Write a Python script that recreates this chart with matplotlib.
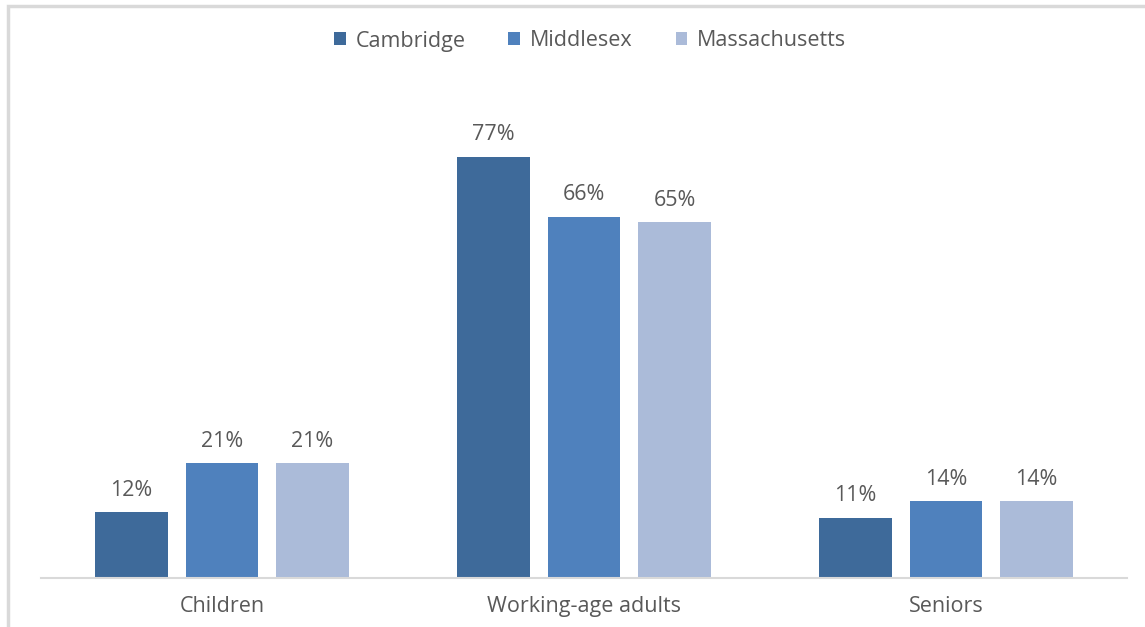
import numpy as np
import matplotlib.pyplot as plt
from matplotlib.patches import Rectangle

categories = ["Children", "Working-age adults", "Seniors"]
series_names = ["Cambridge", "Middlesex", "Massachusetts"]
cambridge = [12, 77, 11]
middlesex = [21, 66, 14]
massachusetts = [21, 65, 14]
colors = ["#3E6A9A", "#4F81BD", "#ABBBD9"]

plt.rcParams['font.family'] = ['Open Sans', 'DejaVu Sans']
fs = 15.5

fig = plt.figure(figsize=(11.45, 6.27), dpi=100)
# outer grey frame (image is cropped on the right and bottom)
fig.patches.append(Rectangle((8 / 1145, -0.1), 1.2, 1 - 6 / 627 + 0.1, transform=fig.transFigure,
                             fill=False, edgecolor="#D9D9D9", linewidth=2.5))

ax = fig.add_axes([41 / 1145, 1 - 578 / 627, (1127 - 41) / 1145, (578 - 80) / 627])
x = np.arange(len(categories))
width = 0.2
offsets = [-0.25, 0, 0.25]
for vals, name, col, off in zip([cambridge, middlesex, massachusetts], series_names, colors, offsets):
    bars = ax.bar(x + off, vals, width, color=col, label=name)
    for b, v in zip(bars, vals):
        ax.text(b.get_x() + b.get_width() / 2, v + 4.0, f"{v}%", ha="center", va="center",
                fontsize=fs, color="#595959")

ax.set_xlim(-0.5, 2.5)
ax.set_ylim(0, 91)
ax.set_xticks(x)
ax.set_xticklabels(categories, fontsize=fs, color="#595959")
ax.tick_params(axis="x", length=0, pad=13)
ax.set_yticks([])
for s in ["top", "right", "left"]:
    ax.spines[s].set_visible(False)
ax.spines["bottom"].set_color("#D9D9D9")
ax.spines["bottom"].set_linewidth(1.5)

leg = fig.legend(loc="center", bbox_to_anchor=(590 / 1145, 1 - 41 / 627), ncol=3, frameon=False,
                 fontsize=fs, handlelength=0.55, handleheight=0.55, handletextpad=0.45, columnspacing=2.0)
for t in leg.get_texts():
    t.set_color("#595959")

fig.savefig("out.png", dpi=100)
